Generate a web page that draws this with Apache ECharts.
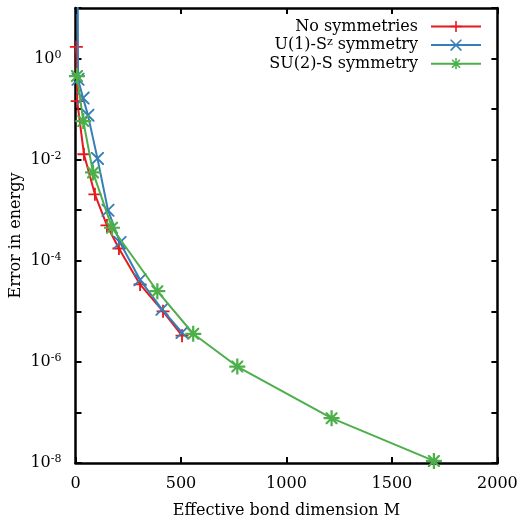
<!DOCTYPE html>
<html><head><meta charset="utf-8">
<script src="https://cdn.jsdelivr.net/npm/echarts@6/dist/echarts.min.js"></script>
<style>html,body{margin:0;padding:0;background:#fff}#c{width:528px;height:518px}</style>
</head><body><div id="c"></div>
<script>
// ---- data ----
const seriesNames = ['No symmetries', 'U(1)-S^z symmetry', 'SU(2)-S symmetry'];
const mNone = [4, 8, 40, 92, 149, 206, 306, 415, 505];
const eNone = [1.7, 0.144, 0.0128, 0.00206, 5.0e-4, 1.75e-4, 3.4e-5, 1.0e-5, 3.3e-6];
const mU1 = [10, 12, 36, 59, 104, 154, 211, 306, 410, 505];
const eU1 = [100, 0.39, 0.165, 0.076, 0.0106, 1.0e-3, 2.3e-4, 4.2e-5, 1.1e-5, 3.8e-6];
const mSU2 = [7, 37, 83, 173, 388, 558, 767, 1214, 1699];
const eSU2 = [0.45, 0.058, 0.0056, 4.5e-4, 2.5e-5, 3.6e-6, 8.1e-7, 7.7e-8, 1.1e-8];
const xTicks = [0, 500, 1000, 1500, 2000];
const yTickExponents = [1, 0, -1, -2, -3, -4, -5, -6, -7, -8];

// ---- style ----
const FONT = 'DejaVu Serif';
const FS = 16;
const colors = ['#e41a1c', '#377eb8', '#4daf4a'];
const plusPath = 'path://M-1.4,-10L1.4,-10L1.4,-1.4L10,-1.4L10,1.4L1.4,1.4L1.4,10L-1.4,10L-1.4,1.4L-10,1.4L-10,-1.4L-1.4,-1.4Z';
const d = 2;
const crossSub = `M-10,-10L${-10+d},-10L0,${-d}L${10-d},-10L10,-10L10,${-10+d}L${d},0L10,${10-d}L10,10L${10-d},10L0,${d}L${-10+d},10L-10,10L-10,${10-d}L${-d},0L-10,${-10+d}Z`;
const crossPath = 'path://' + crossSub;
const s = 7.5, dd = 1.9;
const starCross = `M${-s},${-s}L${-s+dd},${-s}L0,${-dd}L${s-dd},${-s}L${s},${-s}L${s},${-s+dd}L${dd},0L${s},${s-dd}L${s},${s}L${s-dd},${s}L0,${dd}L${-s+dd},${s}L${-s},${s}L${-s},${s-dd}L${-dd},0L${-s},${-s+dd}Z`;
const starPath = 'path://M-1.4,-10L1.4,-10L1.4,-1.4L10,-1.4L10,1.4L1.4,1.4L1.4,10L-1.4,10L-1.4,1.4L-10,1.4L-10,-1.4L-1.4,-1.4Z' + starCross;
const symbols = [plusPath, crossPath, starPath];
const symSizes = [13, 13, 16];
const mData = [mNone, mU1, mSU2];
const eData = [eNone, eU1, eSU2];

const chart = echarts.init(document.getElementById('c'), null, {renderer: 'canvas'});
const grid = {left: 75.5, right: 30.6, top: 8, bottom: 55, containLabel: false, outerBoundsMode: 'none'};
const axLine = {show: true, onZero: false, lineStyle: {color: '#000', width: 2.5}};
const ticks = {show: true, inside: true, length: 6, lineStyle: {color: '#000', width: 2}};

function supLabel(v) {
  const e = Math.round(Math.log10(v));
  if (e % 2 !== 0) return '';
  return '{b|10}{s|' + e + '}';
}

chart.setOption({
  animation: false,
  backgroundColor: '#fff',
  grid: grid,
  legend: {
    right: 46, top: 18.5, orient: 'vertical', align: 'right', padding: 0,
    itemWidth: 50, itemHeight: 14, itemGap: 2.6,
    data: seriesNames,
    formatter: function (n) {
      if (n === 'U(1)-S^z symmetry') return '{a|U(1)-S}{s|z}{a| symmetry}{g|}';
      return '{a|' + n + '}{g|}';
    },
    textStyle: {
      fontFamily: FONT, fontSize: FS, color: '#000',
      rich: {
        a: {fontFamily: FONT, fontSize: FS, color: '#000', lineHeight: 16},
        s: {fontFamily: FONT, fontSize: 11, color: '#000', verticalAlign: 'top', lineHeight: 11},
        g: {width: 8}
      }
    }
  },
  xAxis: [{
    type: 'value', min: xTicks[0], max: xTicks[xTicks.length - 1], interval: 500,
    name: 'Effective bond dimension M', nameLocation: 'middle', nameGap: 40, nameMoveOverlap: false,
    nameTextStyle: {fontFamily: FONT, fontSize: FS, color: '#000'},
    axisLine: axLine, axisTick: ticks, splitLine: {show: false},
    axisLabel: {fontFamily: FONT, fontSize: FS, color: '#000', margin: 13, formatter: v => String(v)}
  }, {
    type: 'value', position: 'top', min: xTicks[0], max: xTicks[xTicks.length - 1], interval: 500,
    axisLine: axLine, axisTick: ticks, splitLine: {show: false}, axisLabel: {show: false}
  }],
  yAxis: [{
    type: 'log', logBase: 10, min: Math.pow(10, yTickExponents[yTickExponents.length - 1]), max: Math.pow(10, yTickExponents[0]), interval: 1,
    name: 'Error in energy', nameLocation: 'middle', nameGap: 52, nameMoveOverlap: false,
    nameTextStyle: {fontFamily: FONT, fontSize: FS, color: '#000'},
    axisLine: axLine, axisTick: ticks, splitLine: {show: false}, minorTick: {show: false},
    axisLabel: {
      formatter: supLabel, margin: 14, color: '#000',
      rich: {
        b: {fontFamily: FONT, fontSize: FS, color: '#000', lineHeight: 18},
        s: {fontFamily: FONT, fontSize: 11, color: '#000', verticalAlign: 'top', lineHeight: 11}
      }
    }
  }, {
    type: 'log', logBase: 10, position: 'right', min: Math.pow(10, yTickExponents[yTickExponents.length - 1]), max: Math.pow(10, yTickExponents[0]), interval: 1,
    axisLine: axLine, axisTick: ticks, splitLine: {show: false}, axisLabel: {show: false}
  }],
  series: seriesNames.map((n, i) => ({
    name: n, type: 'line', xAxisIndex: 0, yAxisIndex: 0,
    data: mData[i].map((m, j) => [m, eData[i][j]]),
    symbol: symbols[i], symbolSize: symSizes[i], showAllSymbol: true,
    color: colors[i],
    lineStyle: {color: colors[i], width: 2},
    itemStyle: {color: colors[i]},
    clip: true, z: 2 + i
  }))
});
</script></body></html>
